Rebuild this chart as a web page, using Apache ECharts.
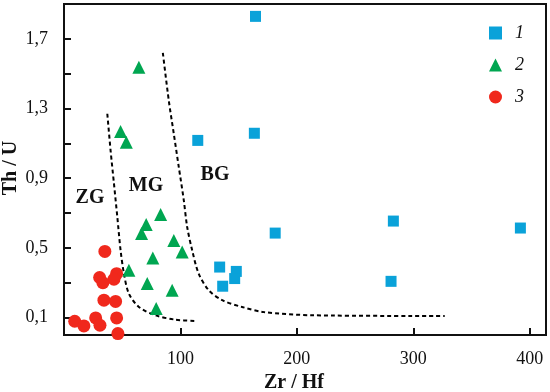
<!DOCTYPE html>
<html>
<head>
<meta charset="utf-8">
<script src="https://cdn.jsdelivr.net/npm/echarts@6/dist/echarts.min.js"></script>
<style>html,body{margin:0;padding:0;background:#fff}#c{width:550px;height:392px}</style>
</head>
<body>
<div id="c"></div>
<script>
// ---- data ----
var series1Name = '1';
var series2Name = '2';
var series3Name = '3';
// [Zr/Hf, Th/U]
var series1 = [
  [164.5, 1.829], [114.9, 1.117], [163.5, 1.158], [181.4, 0.585],
  [133.7, 0.390], [148.0, 0.365], [146.6, 0.324], [136.3, 0.280],
  [282.9, 0.654], [280.9, 0.308], [392.0, 0.614]
];
var series2 = [
  [64.3, 1.537], [48.6, 1.168], [53.5, 1.107], [83.0, 0.692],
  [70.6, 0.635], [66.6, 0.582], [94.3, 0.543], [101.5, 0.476],
  [76.3, 0.442], [55.7, 0.371], [71.5, 0.295], [92.9, 0.257], [79.2, 0.152]
];
var series3 = [
  [35.1, 0.480], [30.6, 0.330], [45.2, 0.352], [42.9, 0.320],
  [33.4, 0.300], [34.3, 0.200], [44.3, 0.193], [9.2, 0.079],
  [17.1, 0.052], [27.2, 0.098], [30.9, 0.056], [45.2, 0.098], [46.3, 0.008]
];
// boundary curves (dashed)
var boundaryZGMG = [
  [37.2, 1.27], [40.0, 1.06], [42.9, 0.87], [45.8, 0.677], [48.6, 0.486],
  [51.5, 0.352], [55.7, 0.238], [64.3, 0.161], [78.6, 0.113], [95.7, 0.088], [112.0, 0.081]
];
var boundaryMGBG = [
  [84.9, 1.62], [90.0, 1.346], [94.3, 1.155], [98.6, 0.964], [102.9, 0.773],
  [105.8, 0.62], [110.1, 0.486], [115.7, 0.352], [124.3, 0.257], [135.8, 0.200],
  [152.9, 0.161], [171.4, 0.132], [214.3, 0.113], [327.0, 0.109]
];
var xLabelValues = [100, 200, 300, 400];
var yLabelValues = [0.1, 0.5, 0.9, 1.3, 1.7];
var yTickValues = [0.1, 0.3, 0.5, 0.7, 0.9, 1.1, 1.3, 1.5, 1.7];
var regionLabels = [
  { text: 'ZG', x: 90, y: 198 },
  { text: 'MG', x: 146, y: 186 },
  { text: 'BG', x: 215, y: 175 }
];
var xAxisTitle = 'Zr / Hf';
var yAxisTitle = 'Th / U';

// ---- chart ----
var chart = echarts.init(document.getElementById('c'), null, { renderer: 'canvas' });
var serif = '"Liberation Serif", "Times New Roman", serif';
var dashLine = { color: '#000', width: 2, type: [4, 3] };

var graphics = regionLabels.map(function (r) {
  return {
    type: 'text', x: r.x, y: r.y, z: 10,
    style: { text: r.text, font: 'bold 20px ' + serif, fill: '#111', align: 'center', verticalAlign: 'middle' }
  };
});
graphics.push({
  type: 'text', x: 294, y: 383,
  style: { text: xAxisTitle, font: 'bold 20px ' + serif, fill: '#111', align: 'center', verticalAlign: 'middle' }
});
graphics.push({
  type: 'text', x: 11, y: 168, rotation: Math.PI / 2,
  style: { text: yAxisTitle, font: 'bold 20px ' + serif, fill: '#111', align: 'center', verticalAlign: 'middle' }
});

chart.setOption({
  animation: false,
  backgroundColor: '#fff',
  grid: { left: 64, right: 4, top: 4, bottom: 57, show: true, borderColor: '#111', borderWidth: 2, backgroundColor: 'transparent' },
  legend: {
    orient: 'vertical', left: 484, top: 19,
    itemWidth: 13, itemHeight: 13, itemGap: 14,
    data: [series1Name, series2Name, series3Name],
    textStyle: { fontFamily: serif, fontStyle: 'italic', fontSize: 18, color: '#111', padding: [0, 0, 0, 8] }
  },
  xAxis: {
    type: 'value', min: 0, max: 414,
    axisLine: { show: true, onZero: false, lineStyle: { color: '#111', width: 2 } },
    axisTick: { show: true, inside: true, length: 7, customValues: xLabelValues, lineStyle: { color: '#111', width: 2 } },
    axisLabel: { customValues: xLabelValues, margin: 15, fontFamily: serif, fontSize: 18, color: '#111' },
    splitLine: { show: false }
  },
  yAxis: {
    type: 'value', min: 0, max: 1.9,
    axisLine: { show: true, onZero: false, lineStyle: { color: '#111', width: 2 } },
    axisTick: { show: true, inside: true, length: 7, customValues: yTickValues, lineStyle: { color: '#111', width: 2 } },
    axisLabel: {
      customValues: yLabelValues, margin: 16, fontFamily: serif, fontSize: 18, color: '#111',
      formatter: function (v) { return v.toFixed(1).replace('.', ','); }
    },
    splitLine: { show: false }
  },
  graphic: graphics,
  series: [
    { type: 'line', data: boundaryZGMG, symbol: 'none', smooth: 0.3, lineStyle: dashLine, silent: true, z: 1, legendHoverLink: false },
    { type: 'line', data: boundaryMGBG, symbol: 'none', smooth: 0.3, lineStyle: dashLine, silent: true, z: 1, legendHoverLink: false },
    { name: series1Name, type: 'scatter', data: series1, symbol: 'rect', symbolSize: 11, itemStyle: { color: '#0aa2d9', opacity: 1 }, z: 3 },
    { name: series2Name, type: 'scatter', data: series2, symbol: 'triangle', symbolSize: 13, itemStyle: { color: '#00a651', opacity: 1 }, z: 3 },
    { name: series3Name, type: 'scatter', data: series3, symbol: 'circle', symbolSize: 13, itemStyle: { color: '#f0281c', opacity: 1 }, z: 3 }
  ]
});
</script>
</body>
</html>
